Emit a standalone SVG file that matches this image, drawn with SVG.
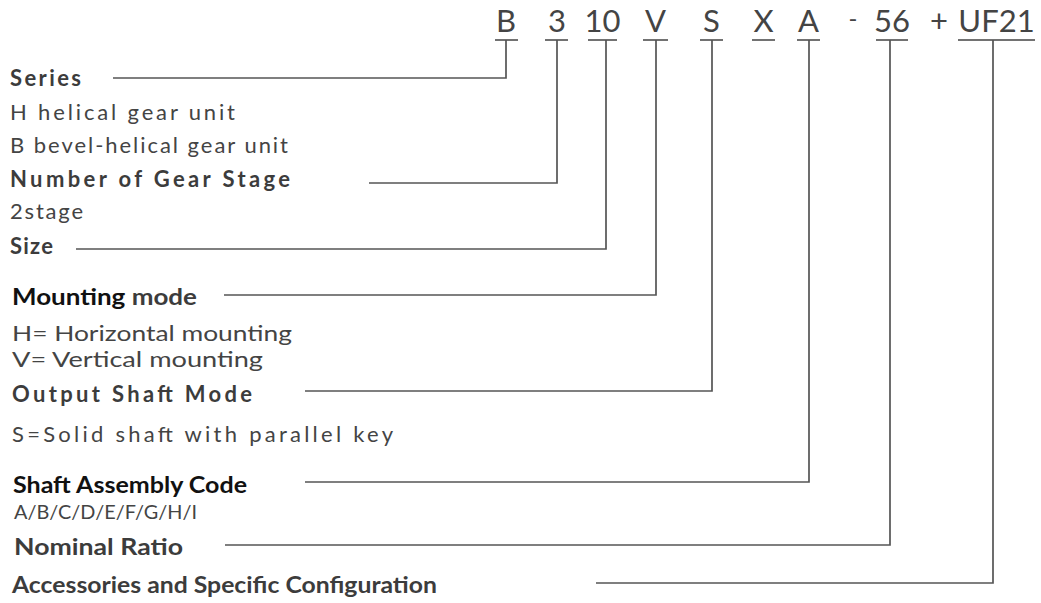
<svg xmlns="http://www.w3.org/2000/svg" width="1041" height="603" viewBox="0 0 1041 603">
<style>
text{font-family:Lato,"Open Sans","Liberation Sans",sans-serif;fill:#444}
.code{font-size:31px;text-anchor:middle}
.lb{font-size:22px;font-weight:bold;fill:#3c3c3c}
.bk{fill:#111}
.rg{font-size:22px}
.ul{stroke:#444;stroke-width:1.4;fill:none}
.cn{stroke:#555;stroke-width:1.7;fill:none}
</style>
<rect width="1041" height="603" fill="#fff"/>
<g id="code">
<text class="code" x="506" y="32">B</text>
<text class="code" x="557" y="32">3</text>
<text class="code" x="602.5" y="32">10</text>
<text class="code" x="655.5" y="32">V</text>
<text class="code" x="711.5" y="32">S</text>
<text class="code" x="763.5" y="32">X</text>
<text class="code" x="808.5" y="32">A</text>
<text class="code" x="853" y="27" style="font-size:24px">-</text>
<text class="code" x="892" y="32">56</text>
<text class="code" x="939" y="32">+</text>
<text class="code" x="996.5" y="32">UF21</text>
<path class="ul" d="M495 40H518M545 40H568M588 40H617M643 40H668M700 40H723M752 40H775M797 40H820M876 40H908M958 40H1035"/>
</g>
<g id="series">
<text class="lb" x="10" y="86" textLength="71" lengthAdjust="spacing">Series</text>
<text class="rg" x="10" y="120" textLength="225" lengthAdjust="spacing">H helical gear unit</text>
<text class="rg" x="10" y="153" textLength="278" lengthAdjust="spacing">B bevel-helical gear unit</text>
</g>
<g id="stage">
<text class="lb" x="10" y="187" textLength="280" lengthAdjust="spacing">Number of Gear Stage</text>
<text class="rg" x="10" y="219" textLength="73" lengthAdjust="spacing">2stage</text>
</g>
<g id="size">
<text class="lb" x="10" y="254" textLength="43" lengthAdjust="spacing">Size</text>
</g>
<g id="mounting">
<text class="lb" x="12" y="305" style="font-size:23px" textLength="185" lengthAdjust="spacingAndGlyphs"><tspan class="bk">Mounting</tspan> mode</text>
<text class="rg" x="12" y="341" textLength="280" lengthAdjust="spacingAndGlyphs">H= Horizontal mounting</text>
<text class="rg" x="12" y="367" textLength="251" lengthAdjust="spacingAndGlyphs">V= Vertical mounting</text>
</g>
<g id="output">
<text class="lb" x="12" y="402" textLength="240" lengthAdjust="spacing">Output Shaft Mode</text>
<text class="rg" x="12" y="442" textLength="381" lengthAdjust="spacing">S=Solid shaft with parallel key</text>
</g>
<g id="assembly">
<text class="lb bk" x="13" y="493" style="font-size:23px" textLength="234" lengthAdjust="spacingAndGlyphs">Shaft Assembly Code</text>
<text class="rg" x="14" y="519" style="font-size:20px" textLength="183" lengthAdjust="spacingAndGlyphs">A/B/C/D/E/F/G/H/I</text>
</g>
<g id="ratio">
<text class="lb" x="14" y="555" textLength="169" lengthAdjust="spacingAndGlyphs">Nominal Ratio</text>
</g>
<g id="accessories">
<text class="lb" x="12" y="593" textLength="425" lengthAdjust="spacingAndGlyphs">Accessories and Specific Configuration</text>
</g>
<g id="connectors">
<path class="cn" d="M113 78H506V40"/>
<path class="cn" d="M369 183H557V40"/>
<path class="cn" d="M76 249H606V40"/>
<path class="cn" d="M224 295H656V40"/>
<path class="cn" d="M305 391H712V40"/>
<path class="cn" d="M305 482H809V40"/>
<path class="cn" d="M225 545H890V40"/>
<path class="cn" d="M596 583H993V40"/>
</g>
</svg>
